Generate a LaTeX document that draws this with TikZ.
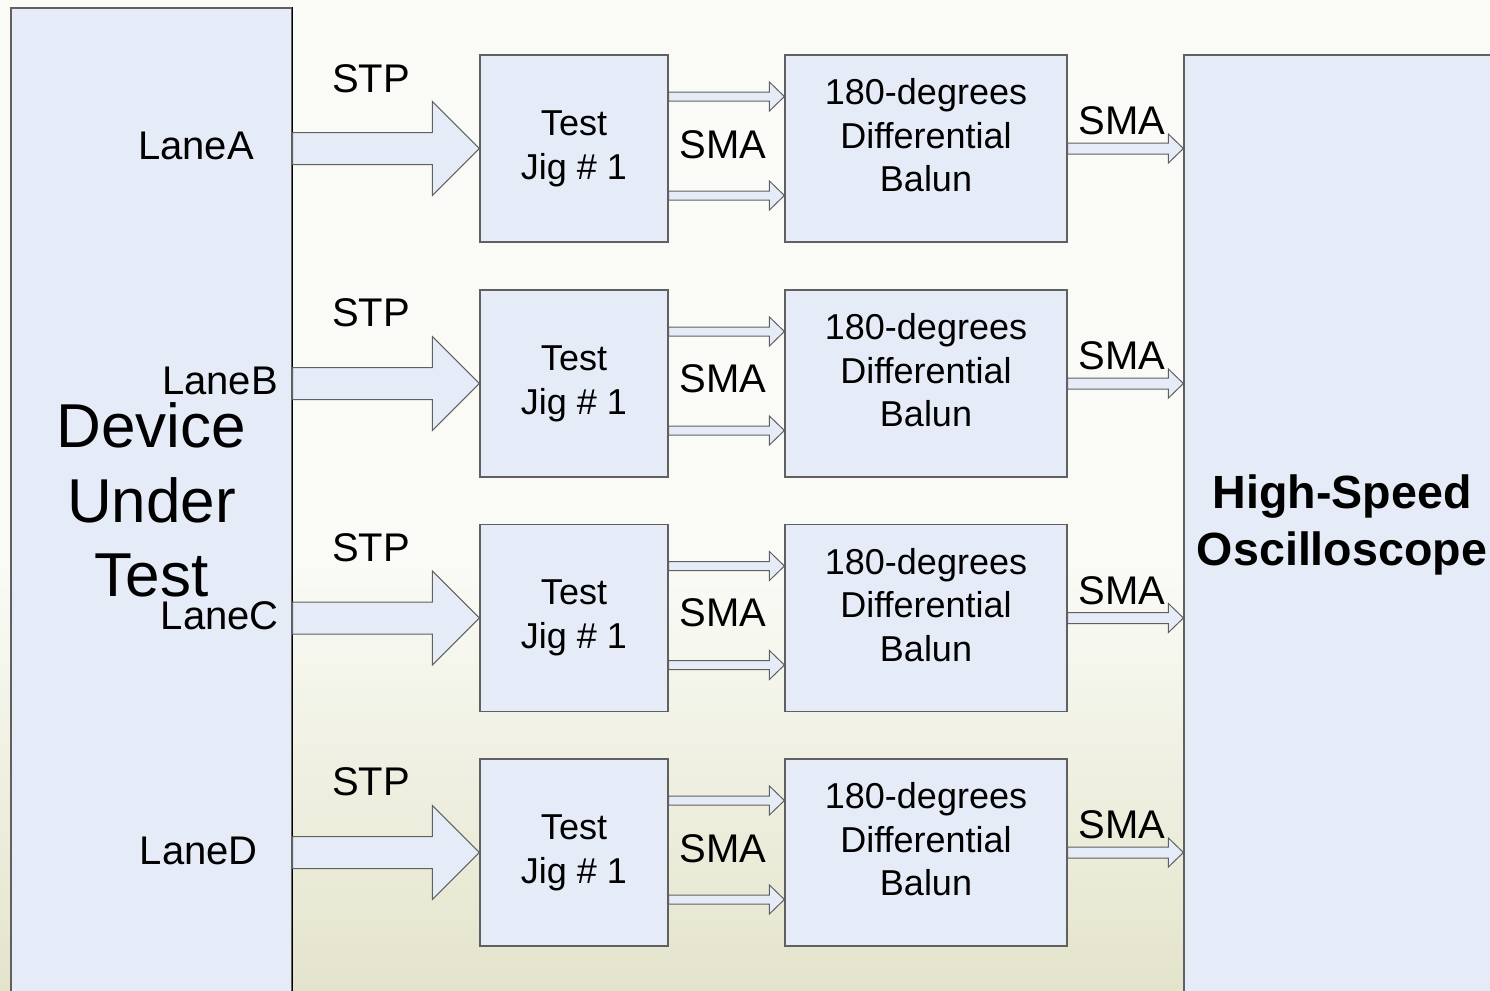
\documentclass[tikz,border=0pt]{standalone}
\usepackage{fontspec}
\setmainfont{Liberation Sans}
\usetikzlibrary{calc}

\definecolor{boxfill}{RGB}{230,236,247}
\definecolor{boxline}{RGB}{96,96,96}
\definecolor{bgtop}{RGB}{250,251,246}
\definecolor{bgbot}{RGB}{228,228,204}

% hollow block arrow: start point, end point (x only), shaft half, head half, head length
\newcommand{\blockarrow}[5]{%
  \draw[arrowbody] let \p1=#1, \p2=#2 in
    (\x1,\y1+#3) -- (\x2-#5,\y1+#3) -- (\x2-#5,\y1+#4) -- (\x2,\y1)
    -- (\x2-#5,\y1-#4) -- (\x2-#5,\y1-#3) -- (\x1,\y1-#3) -- cycle;}

\begin{document}
\begin{tikzpicture}[x=1pt,y=-1pt,
  box/.style={draw=boxline, fill=boxfill, line width=1.2pt, inner sep=0pt},
  jigbox/.style={box, minimum width=188, minimum height=187, align=center, font=\fontsize{36}{44}\selectfont},
  balbox/.style={box, minimum width=282, minimum height=187},
  baltext/.style={align=center, inner sep=0pt, font=\fontsize{36}{43.5}\selectfont},
  wiretext/.style={inner sep=0pt, font=\fontsize{40}{46}\selectfont},
  arrowbody/.style={draw=boxline, fill=boxfill, line width=1pt, line join=miter}]
\useasboundingbox (0,0) rectangle (1490,990);

%Background
\fill[bgtop] (0,0) rectangle (1490,990);
\shade[top color=bgtop, bottom color=bgbot] (0,560) rectangle (1490,990);

%Shape: Rectangle [DUT]
\node[box, minimum width=281, minimum height=984, align=center,
  font=\fontsize{62}{74.5}\selectfont] (dut) at (151.5,500) {Device\\Under\\Test};
\draw[line width=1.2pt] (dut.north east) -- (dut.south east);
%Shape: Rectangle [scope]
\node[box, minimum width=316, minimum height=940, align=center,
  font=\bfseries\fontsize{46.6}{57}\selectfont] (scope) at (1342,525) {High-Speed\\Oscilloscope};

%Lane A
\node[jigbox] (jigA) at (574,148.5) {Test\\Jig \# 1};
\node[balbox] (balA) at (926,148.5) {};
\node[baltext] at ([yshift=13pt]balA.center) {180-degrees\\Differential\\Balun};
\blockarrow{(dut.east |- jigA.west)}{(jigA.west)}{16pt}{47pt}{47pt}
\blockarrow{($(jigA.east)+(0,-52)$)}{(balA.west)}{4.5pt}{14.5pt}{15pt}
\blockarrow{($(jigA.east)+(0,47)$)}{(balA.west)}{4.5pt}{14.5pt}{15pt}
\blockarrow{(balA.east)}{(scope.west)}{5.5pt}{14.5pt}{15pt}
% Text Node
\node[wiretext, anchor=east] at (254,145.5) {LaneA};
\node[wiretext] at (371,79) {STP};
\node[wiretext] at (723,145) {SMA};
\node[wiretext] at (1122,121) {SMA};

%Lane B
\node[jigbox] (jigB) at (574,383.5) {Test\\Jig \# 1};
\node[balbox] (balB) at (926,383.5) {};
\node[baltext] at ([yshift=13pt]balB.center) {180-degrees\\Differential\\Balun};
\blockarrow{(dut.east |- jigB.west)}{(jigB.west)}{16pt}{47pt}{47pt}
\blockarrow{($(jigB.east)+(0,-52)$)}{(balB.west)}{4.5pt}{14.5pt}{15pt}
\blockarrow{($(jigB.east)+(0,47)$)}{(balB.west)}{4.5pt}{14.5pt}{15pt}
\blockarrow{(balB.east)}{(scope.west)}{5.5pt}{14.5pt}{15pt}
% Text Node
\node[wiretext, anchor=east] at (278,381) {LaneB};
\node[wiretext] at (371,313) {STP};
\node[wiretext] at (723,379) {SMA};
\node[wiretext] at (1122,356) {SMA};

%Lane C
\node[jigbox] (jigC) at (574,618) {Test\\Jig \# 1};
\node[balbox] (balC) at (926,618) {};
\node[baltext] at ([yshift=13pt]balC.center) {180-degrees\\Differential\\Balun};
\blockarrow{(dut.east |- jigC.west)}{(jigC.west)}{16pt}{47pt}{47pt}
\blockarrow{($(jigC.east)+(0,-52)$)}{(balC.west)}{4.5pt}{14.5pt}{15pt}
\blockarrow{($(jigC.east)+(0,47)$)}{(balC.west)}{4.5pt}{14.5pt}{15pt}
\blockarrow{(balC.east)}{(scope.west)}{5.5pt}{14.5pt}{15pt}
% Text Node
\node[wiretext, anchor=east] at (279,616) {LaneC};
\node[wiretext] at (371,548) {STP};
\node[wiretext] at (723,613) {SMA};
\node[wiretext] at (1122,591) {SMA};

%Lane D
\node[jigbox] (jigD) at (574,852.5) {Test\\Jig \# 1};
\node[balbox] (balD) at (926,852.5) {};
\node[baltext] at ([yshift=13pt]balD.center) {180-degrees\\Differential\\Balun};
\blockarrow{(dut.east |- jigD.west)}{(jigD.west)}{16pt}{47pt}{47pt}
\blockarrow{($(jigD.east)+(0,-52)$)}{(balD.west)}{4.5pt}{14.5pt}{15pt}
\blockarrow{($(jigD.east)+(0,47)$)}{(balD.west)}{4.5pt}{14.5pt}{15pt}
\blockarrow{(balD.east)}{(scope.west)}{5.5pt}{14.5pt}{15pt}
% Text Node
\node[wiretext, anchor=east] at (258,851) {LaneD};
\node[wiretext] at (371,782) {STP};
\node[wiretext] at (723,849) {SMA};
\node[wiretext] at (1122,825) {SMA};

\end{tikzpicture}
\end{document}
